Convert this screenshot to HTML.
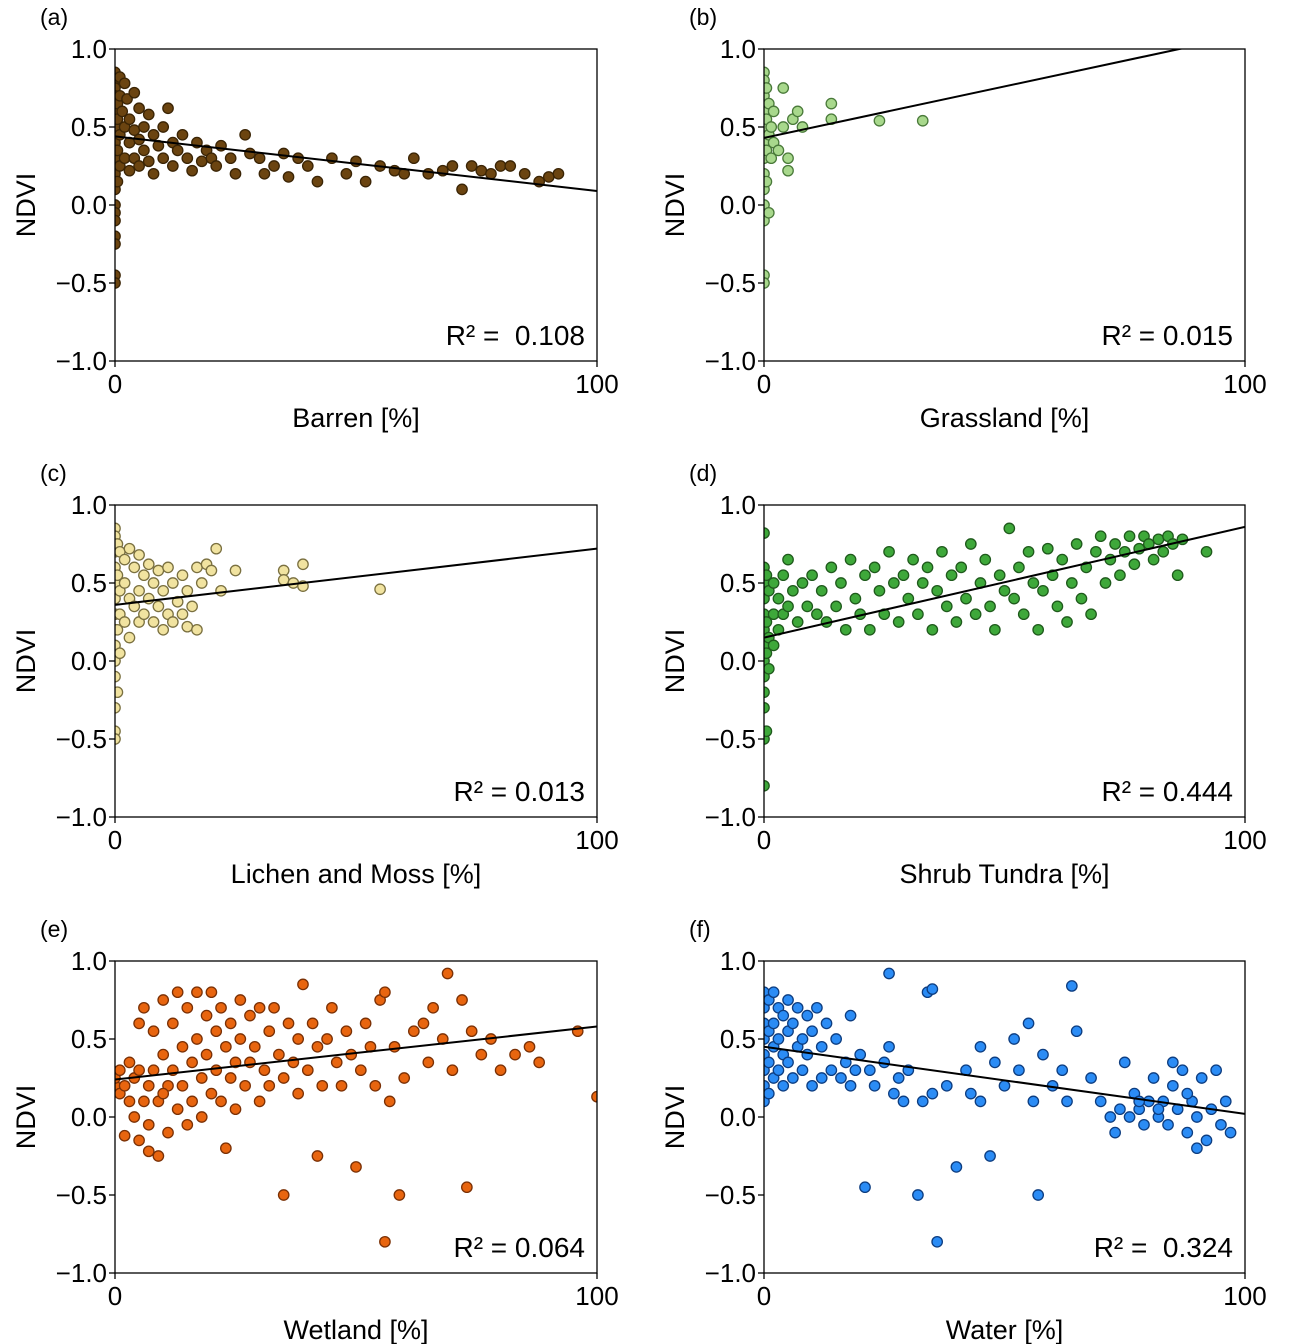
<!DOCTYPE html>
<html><head><meta charset="utf-8"><style>
html,body{margin:0;padding:0;background:#fff;}
svg{display:block;font-family:"Liberation Sans","DejaVu Sans",sans-serif;}
text{white-space:pre;}
</style></head><body>
<svg id="fig" width="1296" height="1344" viewBox="0 0 1296 1344"></svg>
<script>
const barren=[[0,0.85],[0,0.8],[0,0.75],[0,0.7],[0,0.6],[0,0.5],[0,0.4],[0,0.3],[0,0.2],[0,0.1],[0,0.0],[0,-0.05],[0,-0.1],[0,-0.2],[0,-0.25],[0,-0.45],[0,-0.5],[0.5,0.65],[0.5,0.55],[0.5,0.35],[0.5,0.15],[1,0.82],[1,0.7],[1,0.45],[1,0.25],[1.5,0.6],[2,0.78],[2,0.5],[2,0.3],[2.5,0.68],[3,0.55],[3,0.4],[3,0.22],[4,0.72],[4,0.48],[4,0.3],[5,0.62],[5,0.42],[5,0.25],[6,0.5],[6,0.35],[7,0.58],[7,0.28],[8,0.45],[8,0.2],[9,0.38],[10,0.3],[10,0.5],[11,0.62],[12,0.4],[12,0.25],[13,0.35],[14,0.45],[15,0.3],[16,0.22],[17,0.4],[18,0.28],[19,0.35],[20,0.3],[21,0.25],[22,0.38],[24,0.3],[25,0.2],[27,0.45],[28,0.33],[30,0.3],[31,0.2],[33,0.25],[35,0.33],[36,0.18],[38,0.3],[40,0.25],[42,0.15],[45,0.3],[48,0.2],[50,0.28],[52,0.15],[55,0.25],[58,0.22],[60,0.2],[62,0.3],[65,0.2],[68,0.22],[70,0.25],[72,0.1],[74,0.25],[76,0.22],[78,0.2],[80,0.25],[82,0.25],[85,0.2],[88,0.15],[90,0.18],[92,0.2]];
const grass=[[0,0.85],[0,0.8],[0,0.7],[0,0.6],[0,0.5],[0,0.4],[0,0.3],[0,0.2],[0,0.1],[0,0.0],[0,-0.1],[0,-0.45],[0,-0.5],[0.5,0.75],[0.5,0.55],[0.5,0.35],[0.5,0.15],[1,0.65],[1,0.45],[1,-0.05],[1.5,0.5],[1.5,0.3],[2,0.6],[2,0.4],[3,0.35],[4,0.75],[4,0.5],[5,0.3],[5,0.22],[6,0.55],[7,0.6],[8,0.5],[14,0.65],[14,0.55],[24,0.54],[33,0.54]];
const lichen=[[0,0.85],[0,0.8],[0,0.7],[0,0.6],[0,0.5],[0,0.4],[0,0.3],[0,0.2],[0,0.1],[0,0.0],[0,-0.1],[0,-0.3],[0,-0.45],[0,-0.5],[0.5,0.75],[0.5,0.55],[0.5,0.2],[0.5,-0.2],[1,0.7],[1,0.45],[1,0.3],[1,0.05],[2,0.65],[2,0.5],[2,0.25],[3,0.72],[3,0.4],[3,0.15],[4,0.6],[4,0.35],[5,0.68],[5,0.45],[5,0.25],[6,0.55],[6,0.3],[7,0.62],[7,0.4],[8,0.5],[8,0.25],[9,0.58],[9,0.35],[10,0.45],[10,0.2],[11,0.6],[11,0.3],[12,0.5],[12,0.25],[13,0.38],[14,0.3],[14,0.55],[15,0.45],[15,0.22],[16,0.35],[17,0.6],[17,0.2],[18,0.5],[19,0.62],[20,0.58],[21,0.72],[22,0.45],[25,0.58],[35,0.58],[35,0.52],[37,0.5],[39,0.62],[39,0.48],[55,0.46]];
const shrub=[[0,0.82],[0,0.6],[0,0.5],[0,0.4],[0,0.3],[0,0.2],[0,0.1],[0,0.0],[0,-0.1],[0,-0.2],[0,-0.3],[0,-0.5],[0,-0.8],[0.5,0.55],[0.5,0.25],[0.5,0.05],[0.5,-0.45],[1,0.45],[1,0.15],[1,-0.05],[2,0.5],[2,0.3],[2,0.1],[3,0.4],[3,0.2],[4,0.55],[4,0.3],[5,0.65],[5,0.35],[6,0.45],[7,0.25],[8,0.5],[9,0.35],[10,0.55],[11,0.3],[12,0.45],[13,0.25],[14,0.6],[15,0.35],[16,0.5],[17,0.2],[18,0.65],[19,0.4],[20,0.3],[21,0.55],[22,0.2],[23,0.6],[24,0.45],[25,0.3],[26,0.7],[27,0.5],[28,0.25],[29,0.55],[30,0.4],[31,0.65],[32,0.3],[33,0.5],[34,0.6],[35,0.2],[36,0.45],[37,0.7],[38,0.35],[39,0.55],[40,0.25],[41,0.6],[42,0.4],[43,0.75],[44,0.3],[45,0.5],[46,0.65],[47,0.35],[48,0.2],[49,0.55],[50,0.45],[51,0.85],[52,0.4],[53,0.6],[54,0.3],[55,0.7],[56,0.5],[57,0.2],[58,0.45],[59,0.72],[60,0.55],[61,0.35],[62,0.65],[63,0.25],[64,0.5],[65,0.75],[66,0.4],[67,0.6],[68,0.3],[69,0.7],[70,0.8],[71,0.5],[72,0.65],[73,0.75],[74,0.55],[75,0.7],[76,0.8],[77,0.62],[78,0.72],[79,0.8],[80,0.75],[81,0.65],[82,0.78],[83,0.7],[84,0.8],[85,0.75],[86,0.55],[87,0.78],[92,0.7]];
const wetland=[[0,0.2],[0,0.25],[1,0.15],[1,0.3],[2,0.2],[2,-0.12],[3,0.1],[3,0.35],[4,0.0],[4,0.25],[5,-0.15],[5,0.3],[5,0.6],[6,0.1],[6,0.7],[7,0.2],[7,-0.05],[8,0.55],[8,0.3],[9,-0.25],[9,0.1],[10,0.4],[10,0.75],[11,0.2],[11,-0.1],[12,0.6],[12,0.3],[13,0.05],[13,0.8],[14,0.45],[14,0.2],[15,0.7],[15,-0.05],[16,0.35],[16,0.1],[17,0.8],[17,0.5],[18,0.25],[18,0.0],[19,0.65],[19,0.4],[20,0.15],[20,0.8],[21,0.3],[21,0.55],[22,0.1],[22,0.7],[23,0.45],[23,-0.2],[24,0.25],[24,0.6],[25,0.35],[25,0.05],[26,0.75],[26,0.5],[27,0.2],[28,0.65],[28,0.35],[29,0.45],[30,0.1],[30,0.7],[31,0.3],[32,0.55],[32,0.2],[33,0.7],[34,0.4],[35,0.25],[35,-0.5],[36,0.6],[37,0.35],[38,0.15],[38,0.5],[39,0.85],[40,0.3],[41,0.6],[42,0.45],[42,-0.25],[43,0.2],[44,0.5],[45,0.7],[46,0.35],[47,0.2],[48,0.55],[49,0.4],[50,-0.32],[51,0.3],[52,0.6],[53,0.45],[54,0.2],[55,0.75],[56,0.8],[57,0.1],[58,0.45],[59,-0.5],[60,0.25],[62,0.55],[64,0.6],[65,0.35],[66,0.7],[68,0.5],[69,0.92],[70,0.3],[72,0.75],[73,-0.45],[74,0.55],[76,0.4],[78,0.5],[80,0.3],[83,0.4],[86,0.45],[88,0.35],[56,-0.8],[96,0.55],[100,0.13],[7,-0.22],[10,0.15]];
const water=[[0,0.8],[0,0.7],[0,0.6],[0,0.5],[0,0.4],[0,0.3],[0,0.2],[0,0.1],[1,0.75],[1,0.55],[1,0.35],[1,0.15],[2,0.8],[2,0.6],[2,0.45],[2,0.25],[3,0.7],[3,0.5],[3,0.3],[4,0.65],[4,0.4],[4,0.2],[5,0.75],[5,0.55],[5,0.35],[6,0.6],[6,0.25],[7,0.7],[7,0.45],[8,0.5],[8,0.3],[9,0.65],[9,0.4],[10,0.55],[10,0.2],[11,0.7],[12,0.45],[12,0.25],[13,0.6],[14,0.3],[15,0.5],[16,0.25],[17,0.35],[18,0.65],[18,0.2],[19,0.3],[20,0.4],[21,-0.45],[22,0.3],[23,0.2],[25,0.35],[26,0.92],[26,0.45],[27,0.15],[28,0.25],[29,0.1],[30,0.3],[32,-0.5],[33,0.1],[34,0.8],[35,0.82],[35,0.15],[36,-0.8],[38,0.2],[40,-0.32],[42,0.3],[43,0.15],[45,0.1],[45,0.45],[47,-0.25],[48,0.35],[50,0.2],[52,0.5],[53,0.3],[55,0.6],[56,0.1],[57,-0.5],[58,0.4],[60,0.2],[62,0.3],[63,0.1],[64,0.84],[65,0.55],[68,0.25],[70,0.1],[72,0.0],[73,-0.1],[74,0.05],[75,0.35],[76,0.0],[77,0.15],[78,0.05],[79,-0.05],[80,0.1],[81,0.25],[82,0.0],[83,0.1],[84,-0.05],[85,0.2],[86,0.05],[87,0.3],[88,-0.1],[89,0.1],[90,0.0],[91,0.25],[92,-0.15],[93,0.05],[94,0.3],[95,-0.05],[96,0.1],[97,-0.1],[85,0.35],[88,0.15],[90,-0.2],[82,0.05],[78,0.1]];
const yTicks=[1.0,0.5,0.0,-0.5,-1.0];
const yTickLabels=["1.0","0.5","0.0","\u22120.5","\u22121.0"];
const xTicks=[0,100];
const fitIntercepts=[0.44,0.43,0.36,0.15,0.24,0.45];
const fitSlopes=[-0.0035,0.0066,0.0036,0.0071,0.0034,-0.0043];
const r2Labels=["R\u00b2 =  0.108","R\u00b2 = 0.015","R\u00b2 = 0.013","R\u00b2 = 0.444","R\u00b2 = 0.064","R\u00b2 =  0.324"];
const xLabels=["Barren [%]","Grassland [%]","Lichen and Moss [%]","Shrub Tundra [%]","Wetland [%]","Water [%]"];
const panelTags=["(a)","(b)","(c)","(d)","(e)","(f)"];
const datasets=[barren,grass,lichen,shrub,wetland,water];
const fills=["#6b4410","#a8d88c","#f1e3a0","#3ea83a","#e8650f","#2b8cf5"];
const strokes=["#3a2405","#4a7a3a","#7a7040","#1f5a1c","#7a3005","#0d3d80"];
const NS="http://www.w3.org/2000/svg";
const svg=document.getElementById('fig');
function mk(tag,attrs,parent){const e=document.createElementNS(NS,tag);for(const k in attrs)e.setAttribute(k,attrs[k]);(parent||svg).appendChild(e);return e;}
const defs=mk('defs',{});
for(let i=0;i<6;i++){
  const col=i%2,row=Math.floor(i/2);
  const x0=col?764:115,w=col?481:482,y0=49+row*456,h=312;
  const sx=v=>x0+v/100*w, sy=v=>y0+(1-v)/2*h;
  const cp=mk('clipPath',{id:'cp'+i},defs);mk('rect',{x:x0,y:y0,width:w,height:h},cp);
  const g=mk('g',{});
  
  
  const tag=mk('text',{x:x0-75,y:y0-24,'font-size':23,fill:'#000'},g);tag.textContent=panelTags[i];
  
  
  const pts=mk('g',{'clip-path':'url(#cp'+i+')'},g);
  
  
  datasets[i].forEach(p=>{const c=mk('circle',{cx:sx(p[0]),cy:sy(p[1]),r:5.2,fill:fills[i],stroke:strokes[i],'stroke-width':1.3},pts);
    
    });
  const ln=mk('line',{x1:sx(0),y1:sy(fitIntercepts[i]),x2:sx(100),y2:sy(fitIntercepts[i]+fitSlopes[i]*100),stroke:'#000','stroke-width':2,'clip-path':'url(#cp'+i+')'},g);
  
  
  const fr=mk('rect',{x:x0,y:y0,width:w,height:h,fill:'none',stroke:'#000','stroke-width':1.3},g);
  
  
  yTicks.forEach((t,k)=>{mk('line',{x1:x0-6,x2:x0,y1:sy(t),y2:sy(t),stroke:'#000','stroke-width':1.3},g);
    const tx=mk('text',{x:x0-8,y:sy(t)+9,'font-size':26,'text-anchor':'end',fill:'#000'},g);tx.textContent=yTickLabels[k];
    
    });
  xTicks.forEach(t=>{mk('line',{x1:sx(t),x2:sx(t),y1:y0+h,y2:y0+h+6,stroke:'#000','stroke-width':1.3},g);
    const tx=mk('text',{x:sx(t),y:y0+h+32,'font-size':26,'text-anchor':'middle',fill:'#000'},g);tx.textContent=String(t);
    
    });
  const xl=mk('text',{x:x0+w/2,y:y0+h+66,'font-size':27,'text-anchor':'middle',fill:'#000'},g);xl.textContent=xLabels[i];
  
  
  const cy=y0+h/2;
  const yl=mk('text',{x:0,y:0,'font-size':27,'text-anchor':'middle',fill:'#000',transform:'translate('+(x0-80)+','+cy+') rotate(-90)'},g);yl.textContent='NDVI';
  
  
  const r2=mk('text',{x:x0+w-12,y:y0+h-16,'font-size':28,'text-anchor':'end',fill:'#000'},g);r2.textContent=r2Labels[i];
  
  
}
</script>
</body></html>
